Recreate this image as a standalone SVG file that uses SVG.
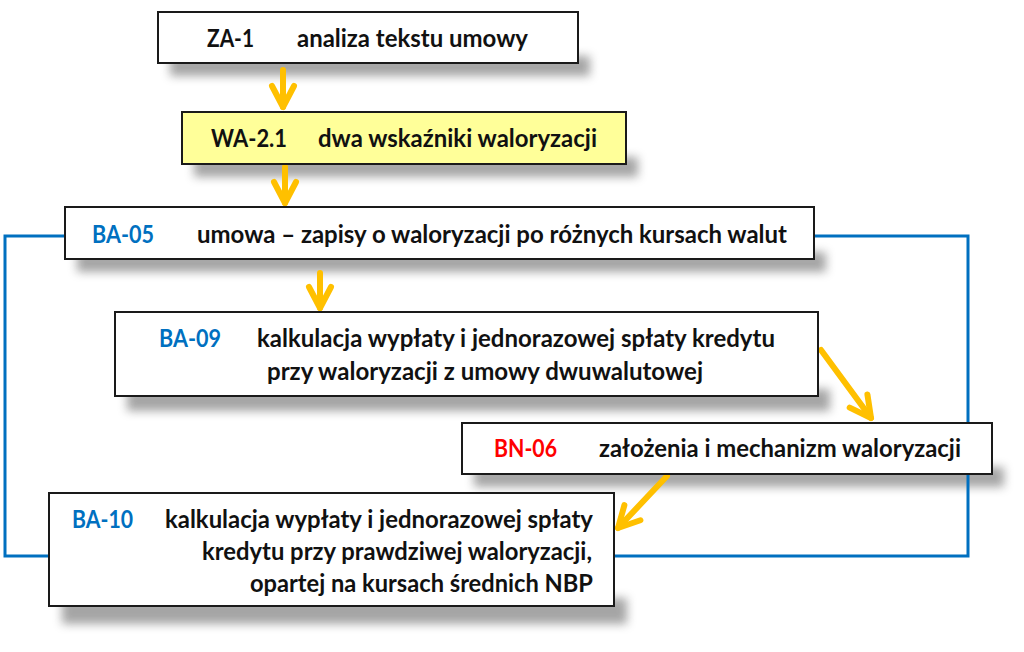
<svg xmlns="http://www.w3.org/2000/svg" width="1024" height="652" viewBox="0 0 1024 652">
<defs>
<filter id="blur" x="-10%" y="-50%" width="120%" height="200%"><feGaussianBlur stdDeviation="5"/></filter>
<marker id="chev" markerUnits="userSpaceOnUse" markerWidth="40" markerHeight="40" viewBox="-30 -20 40 40" refX="0" refY="0" orient="auto">
<path d="M-21,-11 L0,0 L-21,11" fill="none" stroke="#FFC000" stroke-width="6" stroke-linecap="round" stroke-linejoin="round"/>
</marker>
</defs>
<style>
.box{fill:#fff;stroke:#1a1a1a;stroke-width:2}
.yel{fill:#FFFF99}
.sh{fill:#808080;opacity:0.7;filter:url(#blur)}
.t{font-family:Lato,"Open Sans",sans-serif;font-weight:bold;font-size:25px;fill:#111}
.blue{fill:#0070C0}
.red{fill:#FF0000}
.arr{fill:none;stroke:#FFC000;stroke-width:6;stroke-linecap:round;marker-end:url(#chev)}
.link{fill:none;stroke:#0070C0;stroke-width:3}
</style>
<rect width="1024" height="652" fill="#fff"/>
<g id="shadows">
<rect class="sh" x="170" y="56" width="420" height="20"/>
<rect class="sh" x="194" y="157" width="444" height="20"/>
<rect class="sh" x="77" y="252" width="749" height="20"/>
<rect class="sh" x="127" y="389" width="703" height="22"/>
<rect class="sh" x="474" y="467" width="530" height="20"/>
<rect class="sh" x="62" y="598" width="565" height="26"/>
</g>
<g id="connectors">
<polyline class="link" points="65,236 5,236 5,556 49,556"/>
<polyline class="link" points="814,236 968,236 968,556 614,556"/>
<line class="arr" x1="283" y1="70" x2="283" y2="107"/>
<line class="arr" x1="285" y1="167" x2="285" y2="203"/>
<line class="arr" x1="320" y1="273" x2="320" y2="308"/>
<line class="arr" x1="821" y1="350" x2="871" y2="418"/>
<line class="arr" x1="667" y1="476" x2="618" y2="528"/>
</g>
<g id="ZA-1">
<rect class="box" x="158" y="12" width="420" height="51"/>
<text class="t" x="207" y="47" textLength="47" lengthAdjust="spacingAndGlyphs">ZA-1</text>
<text class="t" x="297" y="47" textLength="231" lengthAdjust="spacingAndGlyphs">analiza tekstu umowy</text>
</g>
<g id="WA-2.1">
<rect class="box yel" x="182" y="112" width="444" height="52"/>
<text class="t" x="211" y="147" textLength="76" lengthAdjust="spacingAndGlyphs">WA-2.1</text>
<text class="t" x="318" y="147" textLength="279" lengthAdjust="spacingAndGlyphs">dwa wskaźniki waloryzacji</text>
</g>
<g id="BA-05">
<rect class="box" x="65" y="207" width="749" height="52"/>
<text class="t blue" x="92" y="243" textLength="62" lengthAdjust="spacingAndGlyphs">BA-05</text>
<text class="t" x="197" y="243" textLength="590" lengthAdjust="spacingAndGlyphs">umowa – zapisy o waloryzacji po różnych kursach walut</text>
</g>
<g id="BA-09">
<rect class="box" x="115" y="312" width="703" height="84"/>
<text class="t blue" x="159" y="347" textLength="62" lengthAdjust="spacingAndGlyphs">BA-09</text>
<text class="t" x="257" y="347" textLength="518" lengthAdjust="spacingAndGlyphs">kalkulacja wypłaty i jednorazowej spłaty kredytu</text>
<text class="t" x="267" y="380" textLength="436" lengthAdjust="spacingAndGlyphs">przy waloryzacji z umowy dwuwalutowej</text>
</g>
<g id="BN-06">
<rect class="box" x="462" y="423" width="530" height="51"/>
<text class="t red" x="494" y="457" textLength="63" lengthAdjust="spacingAndGlyphs">BN-06</text>
<text class="t" x="599" y="457" textLength="362" lengthAdjust="spacingAndGlyphs">założenia i mechanizm waloryzacji</text>
</g>
<g id="BA-10">
<rect class="box" x="49" y="493" width="565" height="113"/>
<text class="t blue" x="72" y="528" textLength="61" lengthAdjust="spacingAndGlyphs">BA-10</text>
<text class="t" x="165" y="528" textLength="428" lengthAdjust="spacingAndGlyphs">kalkulacja wypłaty i jednorazowej spłaty</text>
<text class="t" x="202" y="560" textLength="390" lengthAdjust="spacingAndGlyphs">kredytu przy prawdziwej waloryzacji,</text>
<text class="t" x="250" y="592" textLength="343" lengthAdjust="spacingAndGlyphs">opartej na kursach średnich NBP</text>
</g>
</svg>
